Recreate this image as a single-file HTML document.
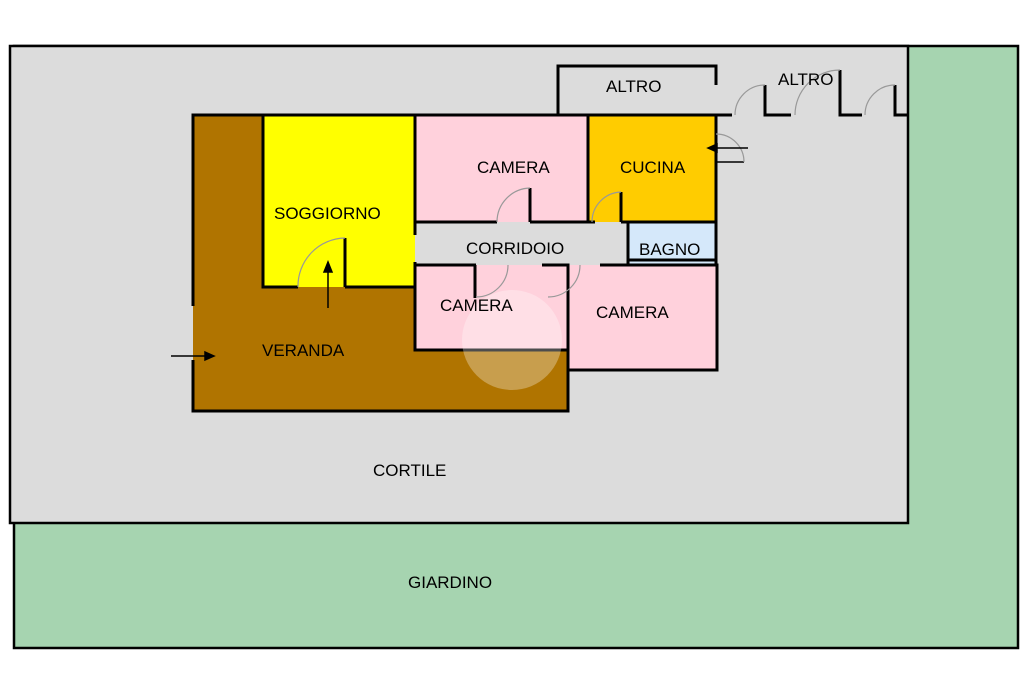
<!DOCTYPE html>
<html><head><style>body{margin:0;background:#fff}svg{display:block}text{font-family:"Liberation Sans",sans-serif;font-size:17px;fill:#000}</style></head><body>
<svg width="1024" height="682" viewBox="0 0 1024 682">
<rect x="0" y="0" width="1024" height="682" fill="#fff"/>
<rect x="14" y="46" width="1004" height="602" fill="#A6D4B0" stroke="#000" stroke-width="2.5"/>
<rect x="10" y="46" width="898" height="477" fill="#DCDCDC" stroke="#000" stroke-width="2.5"/>
<polygon points="193,115 263,115 263,287 415,287 415,350 568,350 568,411 193,411" fill="#B07400"/>
<rect x="263" y="115" width="152" height="172" fill="#FFFF00"/>
<rect x="415" y="115" width="173" height="107" fill="#FFD1DC"/>
<rect x="588" y="115" width="128" height="107" fill="#FFCC00"/>
<rect x="628" y="222" width="88" height="43" fill="#D5E8FA"/>
<rect x="415" y="265" width="153" height="85" fill="#FFD1DC"/>
<rect x="568" y="265" width="149" height="105" fill="#FFD1DC"/>
<g stroke="#000" stroke-width="3" fill="none">
<path d="M193,306 V115 H716 V222"/>
<path d="M193,360 V411 H568 V350 H415 V265"/>
<path d="M263,115 V287 H298 M345,287 H415 V262"/>
<path d="M415,115 V235"/>
<path d="M415,222 H497 M530,222 H588 M588,115 V222 H595 M621,222 H716 V265"/>
<path d="M628,222 V265 M628,260 H716"/>
<path d="M415,265 H476 M475,265 V298"/>
<path d="M542,265 H568 V370 H717 V265 H600"/>
<path d="M568,265 V300"/>
<path d="M558,115 V66 H716 V85"/>
<path d="M716,115 H732 M765,85 V115 H791 M840,70 V115 H862 M895,85 V115 H908"/>
<path d="M530,188 V222 M621,192 V222 M345,238 V287"/>
</g>
<line x1="716" y1="162" x2="744" y2="162" stroke="#000" stroke-width="1.5"/>
<g stroke="#999" stroke-width="1.2" fill="none">
<path d="M530,188 A34,34 0 0 0 497,222"/>
<path d="M621,192 A30,30 0 0 0 592,222"/>
<path d="M345,238 A48,48 0 0 0 298,287"/>
<path d="M765,85 A30,30 0 0 0 735,115"/>
<path d="M840,70 A45,45 0 0 0 795,115"/>
<path d="M895,85 A30,30 0 0 0 865,115"/>
<path d="M716,134 A28,28 0 0 1 744,162"/>
<path d="M508,265 A32,32 0 0 1 476,297"/>
<path d="M580,265 A32,32 0 0 1 548,297"/>
</g>
<g stroke="#000" stroke-width="1.5">
<line x1="328" y1="308" x2="328" y2="265"/><polygon points="328,262 324,272 332,272" fill="#000"/>
<line x1="171" y1="356" x2="210" y2="356"/><polygon points="214,356 205,352 205,360" fill="#000"/>
<line x1="748" y1="148" x2="712" y2="148"/><polygon points="708,148 717,144 717,152" fill="#000"/>
</g>
<circle cx="512" cy="340" r="50" fill="#fff" fill-opacity="0.3"/>
<text x="606" y="92">ALTRO</text>
<text x="778" y="85">ALTRO</text>
<text x="477" y="173">CAMERA</text>
<text x="620" y="173">CUCINA</text>
<text x="274" y="219">SOGGIORNO</text>
<text x="466" y="254">CORRIDOIO</text>
<text x="639" y="255">BAGNO</text>
<text x="440" y="311">CAMERA</text>
<text x="596" y="318">CAMERA</text>
<text x="262" y="356">VERANDA</text>
<text x="373" y="476">CORTILE</text>
<text x="408" y="588">GIARDINO</text>
</svg>
</body></html>
